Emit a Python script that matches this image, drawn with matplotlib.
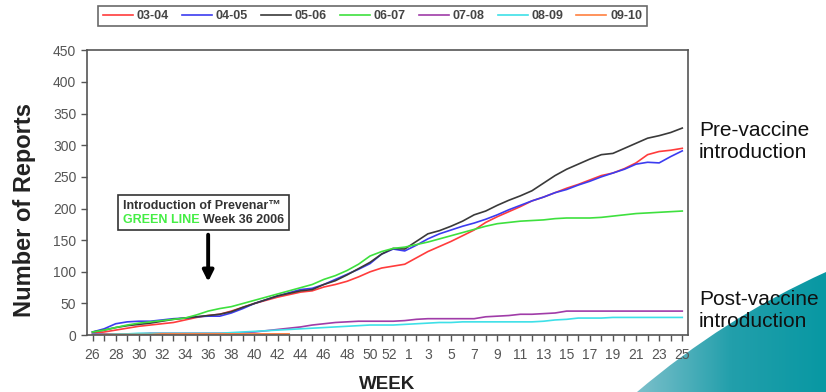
import numpy as np
import matplotlib
matplotlib.use('Agg')
import matplotlib.pyplot as plt
import matplotlib.transforms as mtransforms
from matplotlib.path import Path
from matplotlib.patches import PathPatch
from matplotlib.colors import LinearSegmentedColormap
from matplotlib.offsetbox import TextArea, HPacker, VPacker, AnnotationBbox

plt.rcParams['font.family'] = ['Liberation Sans', 'DejaVu Sans']

#weeks run from week 26 of one year to week 25 of the next
weeks = list(range(26, 53)) + list(range(1, 26))
#labels on even weeks up to 52, then odd weeks
tick_labels = [str(w) if (w >= 26 and w % 2 == 0) or (w < 26 and w % 2 == 1) else '' for w in weeks]

s0304 = [3, 5, 8, 11, 14, 16, 18, 20, 24, 28, 31, 33, 38, 44, 50, 55, 60, 64, 68, 70, 76, 80, 85, 92, 100, 106,
         109, 112, 122, 132, 140, 148, 157, 166, 178, 187, 195, 203, 212, 218, 225, 232, 238, 245, 252, 256, 263,
         272, 285, 290, 292, 295]
s0405 = [5, 10, 18, 21, 22, 22, 24, 26, 27, 29, 30, 30, 35, 42, 50, 56, 62, 67, 72, 74, 80, 88, 96, 104, 113, 128,
         136, 133, 142, 152, 160, 166, 172, 177, 183, 190, 198, 205, 212, 218, 225, 230, 237, 243, 250, 256, 262,
         270, 273, 272, 282, 291]
s0506 = [5, 8, 12, 15, 17, 19, 22, 25, 27, 29, 31, 33, 37, 44, 50, 56, 62, 66, 70, 72, 80, 86, 95, 105, 115, 128,
         137, 136, 148, 160, 165, 172, 180, 190, 196, 205, 213, 220, 228, 240, 252, 262, 270, 278, 285, 287, 295,
         303, 311, 315, 320, 327]
s0607 = [5, 8, 12, 16, 19, 21, 23, 25, 27, 32, 38, 42, 45, 50, 55, 60, 65, 70, 75, 80, 88, 94, 102, 112, 125, 132,
         137, 139, 143, 147, 152, 157, 162, 167, 172, 176, 178, 180, 181, 182, 184, 185, 185, 185, 186, 188, 190,
         192, 193, 194, 195, 196]
s0708 = [2, 2, 2, 2, 2, 3, 3, 3, 3, 3, 3, 3, 3, 4, 5, 7, 9, 11, 13, 16, 18, 20, 21, 22, 22, 22,
         22, 23, 25, 26, 26, 26, 26, 26, 29, 30, 31, 33, 33, 34, 35, 38, 38, 38, 38, 38, 38,
         38, 38, 38, 38, 38]
s0809 = [1, 1, 2, 2, 3, 3, 3, 3, 3, 3, 3, 3, 4, 5, 6, 7, 8, 9, 10, 11, 12, 13, 14, 15, 16, 16,
         16, 17, 18, 19, 20, 20, 21, 21, 21, 21, 21, 21, 21, 22, 24, 25, 27, 27, 27, 28, 28,
         28, 28, 28, 28, 28]
#09-10 season only reported up to week 43
s0910 = [0, 1, 1, 1, 1, 1, 2, 2, 2, 2, 2, 2, 2, 2, 2, 2, 2, 2]

series = ['03-04', '04-05', '05-06', '06-07', '07-08', '08-09', '09-10']
values = [s0304, s0405, s0506, s0607, s0708, s0809, s0910]
colors = ['#ff3c3c', '#3c3cf0', '#3a3a3a', '#3ee03e', '#a03ca8', '#3ee0e8', '#ff8040']

fig = plt.figure(figsize=(8.26, 3.92), dpi=100)

#teal swoosh in the bottom right corner of the slide
bg = fig.add_axes([0, 0, 1, 1], zorder=-1)
bg.set_xlim(0, 826)
bg.set_ylim(392, 0)
bg.axis('off')
verts = [(637, 392), (724, 318), (826, 272), (826, 392), (637, 392)]
codes = [Path.MOVETO, Path.CURVE3, Path.CURVE3, Path.LINETO, Path.CLOSEPOLY]
patch = PathPatch(Path(verts, codes), facecolor='none', edgecolor='none')
bg.add_patch(patch)
grad = np.linspace(0, 1, 256).reshape(1, -1)
teal = LinearSegmentedColormap.from_list('teal', ['#7cc0cb', '#229fab', '#0898a3'])
im = bg.imshow(grad, cmap=teal, extent=(637, 826, 392, 270), aspect='auto')
im.set_clip_path(patch)

ax = fig.add_axes([0.105, 0.145, 0.728, 0.727])
x = np.arange(len(weeks))
for name, vals, c in zip(series, values, colors):
    ax.plot(x[:len(vals)], vals, color=c, lw=1.2, label=name)

ax.set_xlim(-0.5, len(weeks) - 0.5)
ax.set_ylim(0, 450)
ax.set_yticks(range(0, 451, 50))
ax.set_xticks(x)
ax.set_xticklabels(tick_labels)
ax.tick_params(axis='both', colors='#555555', labelsize=10, length=4, width=1, direction='out')
ax.tick_params(axis='x', pad=5)
for sp in ax.spines.values():
    sp.set_color('#555555')
    sp.set_linewidth(1.2)

#nudge the 52 / 1 labels apart where the year wraps
xlabels = ax.get_xticklabels()
xlabels[26].set_transform(xlabels[26].get_transform() + mtransforms.ScaledTranslation(-4 / 100, 0, fig.dpi_scale_trans))
xlabels[27].set_transform(xlabels[27].get_transform() + mtransforms.ScaledTranslation(4 / 100, 0, fig.dpi_scale_trans))

ax.set_ylabel('Number of Reports', fontsize=17, fontweight='bold', color='#222222')
ax.yaxis.set_label_coords(-0.084, 0.44)
ax.set_xlabel('WEEK', fontsize=13.5, fontweight='bold', color='#222222', labelpad=10)

leg = fig.legend(loc='center', bbox_to_anchor=(0.451, 0.959), ncol=7, fontsize=9, frameon=True,
                 fancybox=False, edgecolor='#444444', handlelength=2.4, columnspacing=1.05,
                 handletextpad=0.3, borderpad=0.35)
leg.get_frame().set_linewidth(1.2)
for t in leg.get_texts():
    t.set_color('#444444')
    t.set_fontweight('bold')

#annotation box for the vaccine introduction
fp = dict(fontsize=9, fontweight='bold')
line1 = TextArea('Introduction of Prevenar\u2122', textprops=dict(color='#333333', **fp))
green = TextArea('GREEN LINE', textprops=dict(color='#44ee44', **fp))
rest = TextArea('Week 36 2006', textprops=dict(color='#333333', **fp))
line2 = HPacker(children=[green, rest], align='baseline', pad=0, sep=3)
box = VPacker(children=[line1, line2], align='left', pad=0, sep=2)
ab = AnnotationBbox(box, (9.6, 193), xycoords='data', box_alignment=(0.5, 0.5), pad=0.3,
                    bboxprops=dict(boxstyle='square', facecolor='white', edgecolor='#333333', lw=1.2))
ax.add_artist(ab)
ax.annotate('', xy=(10, 80), xytext=(10, 163),
            arrowprops=dict(arrowstyle='-|>', color='black', lw=2.8, mutation_scale=16))

fig.text(0.846, 0.638, 'Pre-vaccine\nintroduction', fontsize=15, color='#111111', va='center', ha='left',
         linespacing=1.2)
fig.text(0.846, 0.209, 'Post-vaccine\nintroduction', fontsize=15, color='#111111', va='center', ha='left',
         linespacing=1.2)

fig.savefig('out.png', dpi=100)
